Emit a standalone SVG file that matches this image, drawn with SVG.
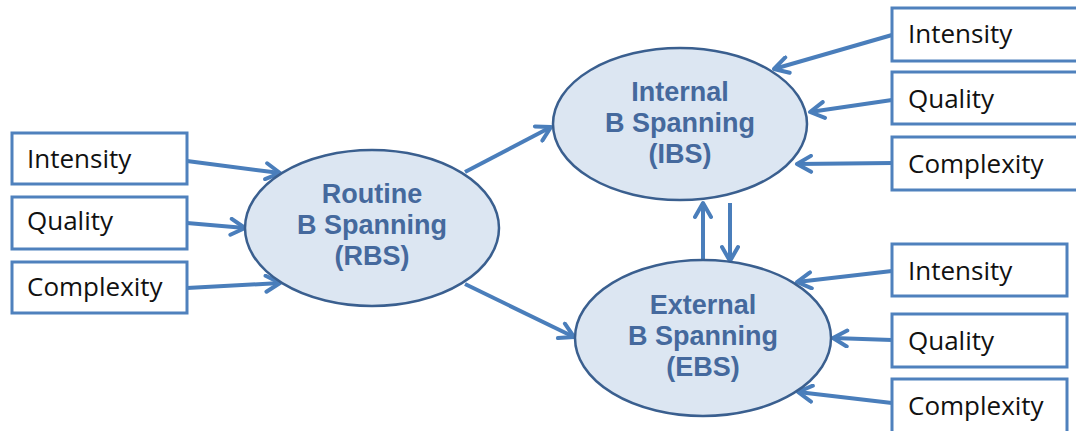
<svg xmlns="http://www.w3.org/2000/svg" width="1076" height="431" viewBox="0 0 1076 431">
  <style>
    .box { fill: #ffffff; stroke: #4f81bd; stroke-width: 3; }
    .lbl { font-family: "Open Sans", "Liberation Sans", sans-serif; font-size: 26px; fill: #111111; }
    .oval { fill: #dce6f2; stroke: #3a5f8f; stroke-width: 2.5; }
    .olbl { font-family: "Liberation Sans", Arial, sans-serif; font-size: 27px; font-weight: bold; fill: #45699d; text-anchor: middle; }
    .link { stroke: #4a7ebb; stroke-width: 4; fill: none; marker-end: url(#arrow); }
  </style>
  <defs>
    <marker id="arrow" viewBox="0 0 20 20" refX="17" refY="10" markerWidth="20" markerHeight="20" markerUnits="userSpaceOnUse" orient="auto">
      <path d="M3,2 L17,10 L3,18" fill="none" stroke="#4a7ebb" stroke-width="4" stroke-linecap="round" stroke-linejoin="round"/>
    </marker>
  </defs>
  <rect width="1076" height="431" fill="#ffffff"/>

  <!-- connectors -->
  <g id="connectors">
    <line class="link" x1="187" y1="161" x2="280" y2="173"/>
    <line class="link" x1="187" y1="223" x2="245" y2="228"/>
    <line class="link" x1="187" y1="288" x2="280" y2="283"/>
    <line class="link" x1="465" y1="172" x2="551" y2="127"/>
    <line class="link" x1="465" y1="284" x2="574" y2="337"/>
    <line class="link" x1="892" y1="35" x2="774" y2="69"/>
    <line class="link" x1="892" y1="100" x2="810" y2="112"/>
    <line class="link" x1="892" y1="163" x2="797" y2="164"/>
    <line class="link" x1="892" y1="271" x2="797" y2="282"/>
    <line class="link" x1="892" y1="340" x2="833" y2="338"/>
    <line class="link" x1="892" y1="403" x2="798" y2="392"/>
    <line class="link" x1="703" y1="260" x2="703" y2="203"/>
    <line class="link" x1="730" y1="203" x2="730" y2="261"/>
  </g>

  <!-- RBS inputs -->
  <g id="rbs-intensity">
    <rect class="box" x="12" y="133" width="175" height="51"/>
    <text class="lbl" x="27" y="168">Intensity</text>
  </g>
  <g id="rbs-quality">
    <rect class="box" x="12" y="197" width="175" height="52"/>
    <text class="lbl" x="27" y="230">Quality</text>
  </g>
  <g id="rbs-complexity">
    <rect class="box" x="12" y="262" width="175" height="51"/>
    <text class="lbl" x="27" y="296">Complexity</text>
  </g>

  <!-- IBS inputs -->
  <g id="ibs-intensity">
    <rect class="box" x="892" y="8" width="200" height="53"/>
    <text class="lbl" x="908" y="43">Intensity</text>
  </g>
  <g id="ibs-quality">
    <rect class="box" x="892" y="72" width="200" height="52"/>
    <text class="lbl" x="908" y="108">Quality</text>
  </g>
  <g id="ibs-complexity">
    <rect class="box" x="892" y="137" width="200" height="53"/>
    <text class="lbl" x="908" y="173">Complexity</text>
  </g>

  <!-- EBS inputs -->
  <g id="ebs-intensity">
    <rect class="box" x="892" y="244" width="175" height="52"/>
    <text class="lbl" x="908" y="280">Intensity</text>
  </g>
  <g id="ebs-quality">
    <rect class="box" x="892" y="314" width="175" height="53"/>
    <text class="lbl" x="908" y="350">Quality</text>
  </g>
  <g id="ebs-complexity">
    <rect class="box" x="892" y="379" width="175" height="60"/>
    <text class="lbl" x="908" y="415">Complexity</text>
  </g>

  <!-- constructs -->
  <g id="rbs">
    <ellipse class="oval" cx="372" cy="228" rx="127" ry="78"/>
    <text class="olbl" x="372" y="203">Routine</text>
    <text class="olbl" x="372" y="234">B Spanning</text>
    <text class="olbl" x="372" y="265">(RBS)</text>
  </g>
  <g id="ibs">
    <ellipse class="oval" cx="680" cy="124" rx="127" ry="76"/>
    <text class="olbl" x="680" y="101">Internal</text>
    <text class="olbl" x="680" y="132">B Spanning</text>
    <text class="olbl" x="680" y="163">(IBS)</text>
  </g>
  <g id="ebs">
    <ellipse class="oval" cx="703" cy="338" rx="128" ry="78"/>
    <text class="olbl" x="703" y="314">External</text>
    <text class="olbl" x="703" y="345">B Spanning</text>
    <text class="olbl" x="703" y="376">(EBS)</text>
  </g>
</svg>
